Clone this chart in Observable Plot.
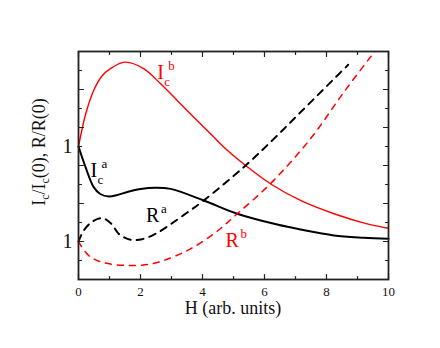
<!DOCTYPE html>
<html><head><meta charset="utf-8">
<script src="https://cdn.jsdelivr.net/npm/d3@7"></script>
<script src="https://cdn.jsdelivr.net/npm/@observablehq/plot@0.6"></script>
<style>body{margin:0;background:#fff}#chart{width:440px;height:348px}</style>
</head><body><div id="chart"></div>
<script>
// Ic^b (red solid)
const icbX = [0, 0.23, 0.49, 0.75, 1.03, 1.5, 2.1, 2.65, 3.2, 3.72, 4.3, 4.8, 5.39, 6.19, 7.16, 8.24, 9.31, 10];
const icbY = [7.0, 8.7, 9.95, 10.7, 11.1, 11.44, 11.1, 10.3, 9.4, 8.54, 7.6, 6.8, 6.0, 5.04, 4.16, 3.46, 2.93, 2.7];
// Ic^a (black solid)
const icaX = [0, 0.23, 0.49, 0.7, 0.98, 1.25, 1.6, 2.0, 2.48, 2.97, 4.04, 5.12, 6.41, 7.16, 8.24, 9.2, 10];
const icaY = [7.0, 5.9, 4.86, 4.5, 4.37, 4.45, 4.62, 4.76, 4.83, 4.77, 4.16, 3.46, 2.89, 2.63, 2.32, 2.2, 2.14];
// R^a (black dashed)
const raX = [0, 0.17, 0.45, 0.76, 1.05, 1.3, 1.68, 2.05, 2.48, 2.91, 3.4, 4.04, 5.39, 6.3, 7.16, 8.7];
const raY = [2.0, 2.58, 3.05, 3.23, 2.95, 2.4, 2.09, 2.12, 2.4, 2.84, 3.4, 4.16, 6.0, 7.4, 8.8, 11.3];
// R^b (red dashed)
const rbX = [0, 0.33, 0.76, 1.52, 2.38, 3.02, 3.61, 4.4, 5.12, 6.19, 7.48, 8.56, 9.58, 9.8];
const rbY = [2.0, 1.26, 0.91, 0.74, 0.83, 1.17, 1.61, 2.45, 3.46, 5.04, 7.4, 9.86, 12.05, 12.5];

// axis ticks
const xMajor = [0, 2, 4, 6, 8, 10];
const xMinor = [1, 3, 5, 7, 9];
const yMajor = [2, 4, 6, 8, 10];
const yMinor = [1, 3, 5, 7, 9, 11];
const yLabelTicks = [2, 7];
const yLabelText = ["1", "1"];

// curve labels
const labBase = ["I", "I", "R", "R"];
const labSub = ["c", "c", "", ""];
const labSup = ["b", "a", "a", "b"];
const labX = [2.54, 0.39, 2.18, 4.74];
const labY = [10.56, 5.38, 3.02, 1.7];
const labColor = ["red", "black", "black", "red"];

const zip = (xs, ys) => xs.map((x, i) => ({x, y: ys[i]}));
const labels = labBase.map((b, i) => ({b, sub: labSub[i], sup: labSup[i], x: labX[i], y: labY[i], c: labColor[i]}));

const tickShape = {draw(ctx, l) { ctx.moveTo(0, 0); ctx.lineTo(0, -l); }};
const F = "Liberation Serif, Times New Roman, serif";
const tickStyle = {stroke: "#222", strokeWidth: 1.2, anchor: "start", shape: tickShape};

const plot = Plot.plot({
  width: 440, height: 348,
  marginLeft: 78, marginRight: 52, marginTop: 51, marginBottom: 69,
  x: {domain: [0, 10]},
  y: {domain: [0, 12]},
  style: {fontFamily: F, background: "white", color: "black"},
  marks: [
    Plot.line(zip(icbX, icbY), {x: "x", y: "y", stroke: "red", strokeWidth: 1.4, curve: "catmull-rom"}),
    Plot.line(zip(icaX, icaY), {x: "x", y: "y", stroke: "black", strokeWidth: 2, curve: "catmull-rom"}),
    Plot.line(zip(raX, raY), {x: "x", y: "y", stroke: "black", strokeWidth: 2, strokeDasharray: "7,6", curve: "catmull-rom"}),
    Plot.line(zip(rbX, rbY), {x: "x", y: "y", stroke: "red", strokeWidth: 1.5, strokeDasharray: "6,6", curve: "catmull-rom", clip: true}),
    Plot.vectorX(xMajor, {...tickStyle, frameAnchor: "bottom", length: 5}),
    Plot.vectorX(xMinor, {...tickStyle, frameAnchor: "bottom", length: 3}),
    Plot.vectorX(xMajor, {...tickStyle, frameAnchor: "top", length: 5, rotate: 180}),
    Plot.vectorX(xMinor, {...tickStyle, frameAnchor: "top", length: 3, rotate: 180}),
    Plot.vectorY(yMajor, {...tickStyle, frameAnchor: "left", length: 5, rotate: 90}),
    Plot.vectorY(yMinor, {...tickStyle, frameAnchor: "left", length: 3, rotate: 90}),
    Plot.vectorY(yMajor, {...tickStyle, frameAnchor: "right", length: 5, rotate: -90}),
    Plot.vectorY(yMinor, {...tickStyle, frameAnchor: "right", length: 3, rotate: -90}),
    Plot.frame({stroke: "#222", strokeWidth: 1.8}),
    Plot.axisX({ticks: xMajor, tickSize: 0, tickPadding: 7, fontSize: 13, label: null, fill: "#111"}),
    Plot.axisY({ticks: yLabelTicks, tickFormat: d => yLabelText[yLabelTicks.indexOf(d)], tickSize: 0, tickPadding: 6, fontSize: 20, label: null, fill: "#111"}),
    Plot.text(labels, {x: "x", y: "y", text: "b", fill: "c", textAnchor: "start", lineAnchor: "bottom", fontSize: 20}),
    Plot.text(labels, {x: "x", y: "y", text: "sub", fill: "c", textAnchor: "start", lineAnchor: "bottom", fontSize: 13, dx: 7, dy: 7}),
    Plot.text(labels, {filter: d => d.b === "I", x: "x", y: "y", text: "sup", fill: "c", textAnchor: "start", lineAnchor: "bottom", fontSize: 13, dx: 11, dy: -9}),
    Plot.text(labels, {filter: d => d.b === "R", x: "x", y: "y", text: "sup", fill: "c", textAnchor: "start", lineAnchor: "bottom", fontSize: 13, dx: 15, dy: -9})
  ]
});

const svg = d3.select(plot);
// x title
svg.append("text").attr("x", 233).attr("y", 314).attr("text-anchor", "middle")
  .attr("font-family", F).attr("font-size", 18).attr("fill", "#111").text("H (arb. units)");
// y title with subscripts
const yt = svg.append("text").attr("transform", "translate(45,152) rotate(-90)").attr("text-anchor", "middle")
  .attr("font-family", F).attr("font-size", 18).attr("fill", "#111");
yt.append("tspan").text("I");
yt.append("tspan").attr("font-size", 12).attr("dy", 4).text("c");
yt.append("tspan").attr("dy", -4).text("/I");
yt.append("tspan").attr("font-size", 12).attr("dy", 4).text("c");
yt.append("tspan").attr("dy", -4).text("(0), R/R(0)");

document.getElementById("chart").appendChild(plot);
</script>
</body></html>
